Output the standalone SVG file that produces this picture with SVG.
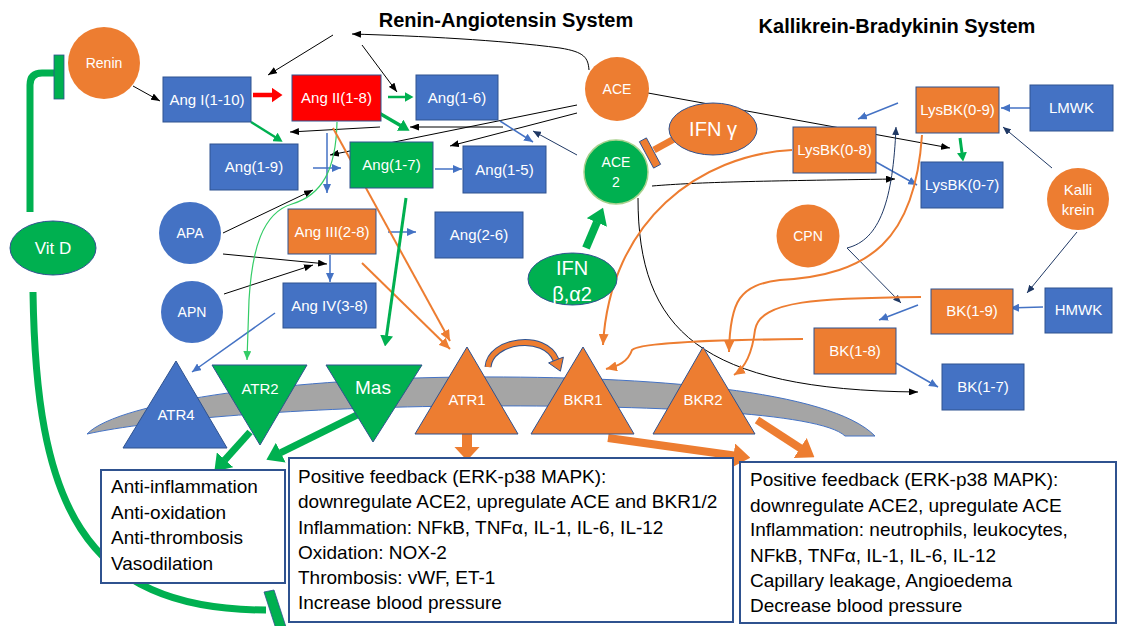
<svg xmlns="http://www.w3.org/2000/svg" width="1121" height="626" viewBox="0 0 1121 626">
<defs>
<style>
text{font-family:"Liberation Sans",Arial,sans-serif}
.t{font-size:20px;font-weight:bold;fill:#000;text-anchor:middle}
.l{font-size:15px;fill:#fff;text-anchor:middle}
.s{font-size:14px}
.m{font-size:19px}
.x{font-size:20px}
.v{font-size:17px}
.b{font-size:19px;fill:#000}
.bl{fill:#4472C4;stroke:#2F528F;stroke-width:1}
.or{fill:#ED7D31;stroke:#2F528F;stroke-width:1}
.gr{fill:#00B050;stroke:#2F528F;stroke-width:1}
.rd{fill:#FF0000;stroke:#2F528F;stroke-width:1}
.oc{fill:#ED7D31}
.bc{fill:#4472C4}
.tb{fill:#fff;stroke:#2F528F;stroke-width:2}
.k{fill:none;stroke:#000;stroke-width:1;marker-end:url(#mk)}
.bu{fill:none;stroke:#4472C4;stroke-width:1.5;marker-end:url(#mb)}
.nv{fill:none;stroke:#1F3864;stroke-width:1;marker-end:url(#mn)}
.oa{fill:none;stroke:#ED7D31;stroke-width:2;marker-end:url(#mo)}
.gt{fill:none;stroke:#00B050}
</style>
<marker id="mk" viewBox="0 0 9 7" refX="9" refY="3.5" markerWidth="9" markerHeight="7" markerUnits="userSpaceOnUse" orient="auto"><path d="M0,0L9,3.5L0,7z" fill="#000"/></marker>
<marker id="mb" viewBox="0 0 9 8" refX="9" refY="4" markerWidth="9" markerHeight="8" markerUnits="userSpaceOnUse" orient="auto"><path d="M0,0L9,4L0,8z" fill="#4472C4"/></marker>
<marker id="mn" viewBox="0 0 8 7" refX="8" refY="3.5" markerWidth="8" markerHeight="7" markerUnits="userSpaceOnUse" orient="auto"><path d="M0,0L8,3.5L0,7z" fill="#1F3864"/></marker>
<marker id="mlg" viewBox="0 0 9 8" refX="9" refY="4" markerWidth="9" markerHeight="8" markerUnits="userSpaceOnUse" orient="auto"><path d="M0,0L9,4L0,8z" fill="#33CC66"/></marker>
<marker id="mo" viewBox="0 0 11 10" refX="11" refY="5" markerWidth="11" markerHeight="10" markerUnits="userSpaceOnUse" orient="auto"><path d="M0,0L11,5L0,10z" fill="#ED7D31"/></marker>
<marker id="mR" viewBox="0 0 11 15" refX="0.5" refY="7.5" markerWidth="11" markerHeight="15" markerUnits="userSpaceOnUse" orient="auto"><path d="M0,0L11,7.5L0,15z" fill="#FF0000"/></marker>
<marker id="mG1" viewBox="0 0 9 10" refX="0.5" refY="5" markerWidth="9" markerHeight="10" markerUnits="userSpaceOnUse" orient="auto"><path d="M0,0L9,5L0,10z" fill="#00B050"/></marker>
<marker id="mG2" viewBox="0 0 11 13" refX="0.5" refY="6.5" markerWidth="11" markerHeight="13" markerUnits="userSpaceOnUse" orient="auto"><path d="M0,0L11,6.5L0,13z" fill="#00B050"/></marker>
<marker id="mGB" viewBox="0 0 16 22" refX="0.5" refY="11" markerWidth="16" markerHeight="22" markerUnits="userSpaceOnUse" orient="auto"><path d="M0,0L16,11L0,22z" fill="#00B050"/></marker>
<marker id="mOA" viewBox="0 0 14 26" refX="0.5" refY="13" markerWidth="14" markerHeight="26" markerUnits="userSpaceOnUse" orient="auto"><path d="M0,0L14,13L0,26z" fill="#ED7D31"/></marker>
<marker id="mOB" viewBox="0 0 17 24" refX="0.5" refY="12" markerWidth="17" markerHeight="24" markerUnits="userSpaceOnUse" orient="auto"><path d="M0,0L17,12L0,24z" fill="#ED7D31"/></marker>
</defs>
<rect width="1121" height="626" fill="#fff"/>

<g id="titles">
<text class="t" x="506" y="27">Renin-Angiotensin System</text>
<text class="t" x="897" y="33">Kallikrein-Bradykinin System</text>
</g>

<g id="membrane">
<path d="M87 434 C120 400 300 378 470 377 C650 376 830 390 875 436 L845 436 C820 412 650 405 470 406 C300 407 150 420 87 434 Z" fill="#A5A5A5" stroke="#4472C4" stroke-width="1"/>
</g>

<g id="connectors">
<path class="gt" stroke-width="7" d="M56 73 L42 73 Q30 73 30 85 L30 212"/>
<rect x="54" y="55" width="10" height="44" fill="#00B050" stroke="#2F528F" stroke-width="0.8"/>
<path class="gt" stroke-width="7" d="M33 292 C36 500 80 610 266 610"/>
<polygon points="264,592 274,590 286,627 276,629" fill="#00B050" stroke="#2F528F" stroke-width="0.8"/>

<path class="k" d="M133 86 L160 101"/>
<path class="k" d="M589 70 C588 58 585 52 560 48 C500 40 420 36 352 34"/>
<path class="k" d="M333 35 L268 75"/>
<path class="k" d="M362 45 L397 92"/>
<path class="k" d="M648 93 L950 148"/>
<path class="k" d="M577 105 L330 155"/>
<path class="k" stroke-width="2" d="M577 113 L450 146"/>
<path class="k" d="M503 127 L410 127"/>
<path class="k" d="M380 127 L290 132"/>
<path class="k" d="M652 186 C700 182 760 181 895 179"/>
<path class="k" d="M638 198 C638 330 700 390 918 392"/>
<path class="k" d="M223 233 L313 190"/>
<path class="k" d="M223 254 L327 264"/>
<path class="k" d="M224 294 L313 265"/>

<path class="bu" d="M313 168 L341 168"/>
<path class="bu" d="M327 133 L327 193"/>
<path class="bu" d="M435 169 L462 169"/>
<path class="bu" stroke="#6F93D6" stroke-width="1" d="M500 121 L533 142"/>
<path class="bu" d="M388 232 L416 232"/>
<path class="bu" d="M330 255 L330 282"/>
<path class="bu" d="M275 313 L192 372"/>
<path class="bu" d="M1030 108 L1001 108"/>
<path class="bu" d="M1043 307 L1010 308"/>
<path class="bu" d="M898 103 L858 119"/>
<path class="bu" d="M876 162 L917 185"/>
<path class="bu" d="M918 305 L879 320"/>
<path class="bu" d="M896 363 L938 387"/>
<path class="bu" stroke-width="1" d="M578 275 L572 305"/>

<path class="nv" d="M577 155 L533 131"/>
<path class="nv" d="M847 248 C880 240 893 200 896 127"/>
<path class="nv" d="M847 248 L901 303"/>
<path class="nv" d="M1052 168 L1003 127"/>
<path class="nv" d="M1077 232 L1027 293"/>

<path fill="none" stroke="#33CC66" stroke-width="1.2" marker-end="url(#mlg)" d="M337 122 C336 170 322 195 292 204 C262 213 252 250 249 300 L247 360"/>

<path class="oa" d="M333 128 L450 341"/>
<path class="oa" d="M362 263 L450 349"/>
<path class="oa" d="M792 150 C700 155 610 220 603 345"/>
<path class="oa" d="M922 135 C915 240 870 275 780 280 C740 285 730 300 729 352"/>
<path class="oa" d="M921 297 C820 298 760 300 755 330 C752 355 745 368 734 375"/>
<path class="oa" d="M803 339 C720 340 640 342 632 350 C628 362 618 366 606 369"/>

<path fill="none" stroke="#FF0000" stroke-width="4.5" marker-end="url(#mR)" d="M253 95 L272 95"/>
<path class="gt" stroke-width="2.5" marker-end="url(#mG1)" d="M388 97 L405 97"/>
<path class="gt" stroke-width="2.5" marker-end="url(#mG1)" d="M251 122 L275.4 137.2"/>
<path class="gt" stroke-width="3.5" marker-end="url(#mG2)" d="M379 113 L400.5 125.5"/>
<path class="gt" stroke-width="3" marker-end="url(#mG2)" d="M406 198 L386.5 336"/>
<path class="gt" stroke-width="3" marker-end="url(#mG1)" d="M960 138 L962 153"/>
<path class="gt" stroke-width="8" marker-end="url(#mGB)" d="M586 248 L597 222"/>
<path class="gt" stroke-width="7" marker-end="url(#mGB)" d="M250 432 L224.7 460.1"/>
<path class="gt" stroke-width="7" marker-end="url(#mGB)" d="M357 415 L280.3 452.9"/>
<path fill="none" stroke="#ED7D31" stroke-width="10" marker-end="url(#mOA)" d="M467 434 L467 447"/>
<path fill="none" stroke="#ED7D31" stroke-width="8" marker-end="url(#mOB)" d="M608 438 L734 455.5"/>
<path fill="none" stroke="#ED7D31" stroke-width="8" marker-end="url(#mOB)" d="M757 420 L800.6 448.3"/>

<path fill="none" stroke="#ED7D31" stroke-width="7" d="M674 139 L654 150"/>
<polygon points="646.4,137.9 660.6,164.3 653.6,168.1 639.4,141.7" fill="#ED7D31" stroke="#2F528F" stroke-width="1"/>

<path fill="none" stroke="#2F528F" stroke-width="7" d="M488 367 C490 340 545 332 556 360"/>
<path fill="none" stroke="#ED7D31" stroke-width="5" d="M488 367 C490 340 545 332 556 360"/>
<polygon points="563.4,357.1 560.4,371.2 548.6,362.9" fill="#ED7D31" stroke="#2F528F" stroke-width="1"/>
</g>

<g id="renin"><circle cx="104" cy="63" r="36" class="oc"/><text class="l s" x="104" y="68">Renin</text></g>
<g id="vitd"><ellipse cx="53" cy="248" rx="43" ry="27" fill="#00B050" stroke="#2F528F" stroke-width="1"/><text class="l v" x="53" y="254">Vit D</text></g>
<g id="ang1"><rect x="163" y="77" width="88" height="45" class="bl"/><text class="l" x="207" y="105">Ang I(1-10)</text></g>
<g id="ang2"><rect x="292" y="75" width="89" height="46" class="rd"/><text class="l" x="336.5" y="103">Ang II(1-8)</text></g>
<g id="ang16"><rect x="416" y="75" width="82" height="45" class="bl"/><text class="l" x="457" y="103">Ang(1-6)</text></g>
<g id="ang19"><rect x="210" y="144" width="88" height="46" class="bl"/><text class="l" x="254" y="172">Ang(1-9)</text></g>
<g id="ang17"><rect x="350" y="142" width="83" height="46" class="gr"/><text class="l" x="391.5" y="170">Ang(1-7)</text></g>
<g id="ang15"><rect x="463" y="146" width="83" height="47" class="bl"/><text class="l" x="504.5" y="175">Ang(1-5)</text></g>
<g id="ang3"><rect x="288" y="209" width="88" height="45" class="or"/><text class="l" x="332" y="237">Ang III(2-8)</text></g>
<g id="ang26"><rect x="435" y="212" width="88" height="46" class="bl"/><text class="l" x="479" y="240">Ang(2-6)</text></g>
<g id="ang4"><rect x="283" y="283" width="93" height="45" class="bl"/><text class="l" x="329.5" y="311">Ang IV(3-8)</text></g>
<g id="apa"><circle cx="190" cy="233" r="31" class="bc"/><text class="l s" x="190" y="238">APA</text></g>
<g id="apn"><circle cx="192" cy="312" r="31" class="bc"/><text class="l s" x="192" y="317">APN</text></g>
<g id="ace"><circle cx="617" cy="89" r="32" class="oc"/><text class="l s" x="617" y="94">ACE</text></g>
<g id="ace2"><circle cx="616" cy="172" r="32" fill="#00B050" stroke="#A9D18E" stroke-width="1.5"/><text class="l s" x="616" y="167">ACE</text><text class="l s" x="616" y="187">2</text></g>
<g id="ifng"><ellipse cx="713" cy="129" rx="44" ry="26" fill="#ED7D31" stroke="#2F528F" stroke-width="1"/><text class="l x" x="713" y="136">IFN γ</text></g>
<g id="ifnb"><ellipse cx="572.5" cy="279" rx="44.5" ry="26" fill="#00B050" stroke="#2F528F" stroke-width="1"/><text class="l x" x="572" y="275">IFN</text><text class="l x" x="572" y="301">β,α2</text></g>
<g id="lysbk09"><rect x="916" y="87" width="83" height="46" class="or"/><text class="l" x="957.5" y="115">LysBK(0-9)</text></g>
<g id="lmwk"><rect x="1030" y="85" width="83" height="46" class="bl"/><text class="l" x="1071.5" y="113">LMWK</text></g>
<g id="lysbk08"><rect x="793" y="127" width="83" height="46" class="or"/><text class="l" x="834.5" y="155">LysBK(0-8)</text></g>
<g id="lysbk07"><rect x="921" y="162" width="82" height="46" class="bl"/><text class="l" x="962" y="190">LysBK(0-7)</text></g>
<g id="kallikrein"><circle cx="1078" cy="199" r="31" class="oc"/><text class="l" x="1078" y="195">Kalli</text><text class="l" x="1078" y="215">krein</text></g>
<g id="cpn"><circle cx="808" cy="236" r="31.5" class="oc"/><text class="l s" x="808" y="241">CPN</text></g>
<g id="bk19"><rect x="931" y="289" width="82" height="45" class="or"/><text class="l" x="972" y="316">BK(1-9)</text></g>
<g id="hmwk"><rect x="1045" y="288" width="67" height="45" class="bl"/><text class="l" x="1078.5" y="315">HMWK</text></g>
<g id="bk18"><rect x="814" y="328" width="82" height="46" class="or"/><text class="l" x="855" y="356">BK(1-8)</text></g>
<g id="bk17"><rect x="942" y="364" width="82" height="46" class="bl"/><text class="l" x="983" y="392">BK(1-7)</text></g>

<g id="atr4"><polygon points="176,361 227,448 123,448" class="bl"/><text class="l" x="176" y="420">ATR4</text></g>
<g id="atr2"><polygon points="212,365 307,365 260,445" class="gr"/><text class="l" x="260" y="394">ATR2</text></g>
<g id="mas"><polygon points="326,365 422,365 373,442" class="gr"/><text class="l m" x="373" y="394">Mas</text></g>
<g id="atr1"><polygon points="467,347 518,434 415,434" class="or"/><text class="l" x="467" y="405">ATR1</text></g>
<g id="bkr1"><polygon points="583,347 634,434 531,434" class="or"/><text class="l" x="583" y="405">BKR1</text></g>
<g id="bkr2"><polygon points="703,347 755,434 653,434" class="or"/><text class="l" x="703" y="405">BKR2</text></g>

<g id="box-protective"><rect x="101" y="470" width="184" height="113" class="tb"/>
<text class="b" x="111" y="493">Anti-inflammation</text>
<text class="b" x="111" y="519">Anti-oxidation</text>
<text class="b" x="111" y="544">Anti-thrombosis</text>
<text class="b" x="111" y="570">Vasodilation</text></g>
<g id="box-atr1"><rect x="289" y="458" width="444" height="164" class="tb"/>
<text class="b" x="298" y="483">Positive feedback (ERK-p38 MAPK):</text>
<text class="b" x="298" y="508">downregulate ACE2, upregulate ACE and BKR1/2</text>
<text class="b" x="298" y="534">Inflammation: NFkB, TNFα, IL-1, IL-6, IL-12</text>
<text class="b" x="298" y="559">Oxidation: NOX-2</text>
<text class="b" x="298" y="584">Thrombosis: vWF, ET-1</text>
<text class="b" x="298" y="609">Increase blood pressure</text></g>
<g id="box-bkr"><rect x="740" y="462" width="376" height="161" class="tb"/>
<text class="b" x="750" y="486">Positive feedback (ERK-p38 MAPK):</text>
<text class="b" x="750" y="512">downregulate ACE2, upregulate ACE</text>
<text class="b" x="750" y="536">Inflammation: neutrophils, leukocytes,</text>
<text class="b" x="750" y="562">NFkB, TNFα, IL-1, IL-6, IL-12</text>
<text class="b" x="750" y="587">Capillary leakage, Angioedema</text>
<text class="b" x="750" y="612">Decrease blood pressure</text></g>
</svg>
